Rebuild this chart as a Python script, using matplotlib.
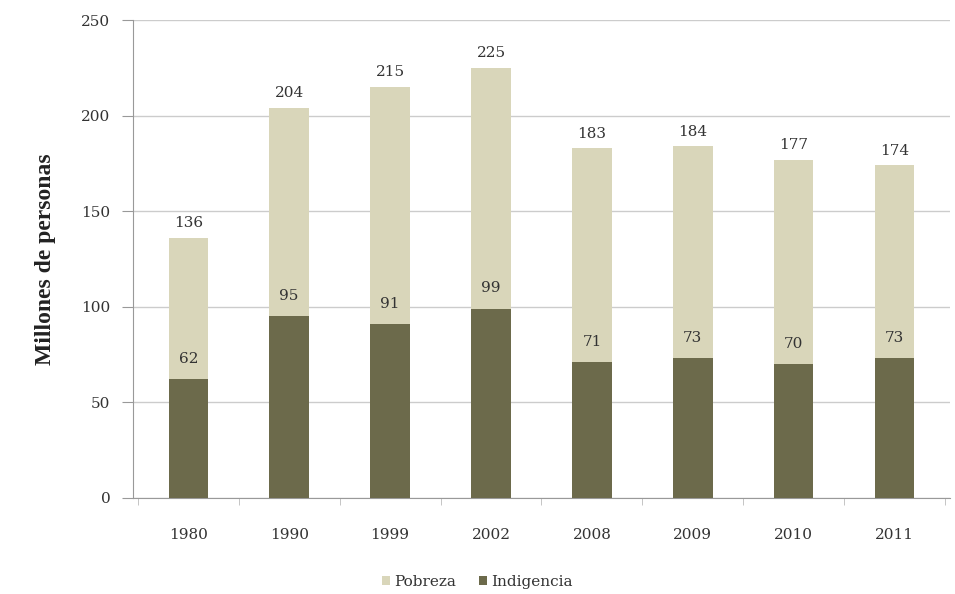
import matplotlib
matplotlib.use("Agg")
import matplotlib.pyplot as plt
import numpy as np

years = ["1980", "1990", "1999", "2002", "2008", "2009", "2010", "2011"]
pobreza = [136, 204, 215, 225, 183, 184, 177, 174]
indigencia = [62, 95, 91, 99, 71, 73, 70, 73]

c_pob = "#d9d6ba"
c_ind = "#6c6a4b"
txt = "#333333"
plt.rcParams['font.family'] = ['DejaVu Serif']

fig = plt.figure(figsize=(9.55, 5.94), dpi=100)
ax = fig.add_axes([0.139, 0.162, 0.856, 0.804])
x = np.arange(len(years))
w = 0.39
ax.bar(x, pobreza, w, color=c_pob, label="Pobreza", zorder=2)
ax.bar(x, indigencia, w, color=c_ind, label="Indigencia", zorder=3)

for xi, p, i in zip(x, pobreza, indigencia):
    ax.text(xi, p + 4, str(p), ha="center", va="bottom", fontsize=11, color=txt)
    ax.text(xi, i + 7, str(i), ha="center", va="bottom", fontsize=11, color=txt)

ax.set_xlim(-0.55, len(years) - 0.45)
ax.set_ylim(0, 250)
ax.set_yticks(range(0, 251, 50))
ax.set_xticks(x)
ax.set_xticklabels(years, fontsize=11, color=txt)
ax.tick_params(axis="y", labelsize=11, colors=txt, length=8, color="#999999", pad=8)
ax.tick_params(axis="x", length=0, pad=22)
ax.set_xticks(np.arange(-0.5, len(years), 1), minor=True)
ax.tick_params(axis="x", which="minor", length=5, color="#bbbbbb")
ax.grid(axis="y", color="#cccccc", linewidth=1, zorder=0)
for s in ["top", "right"]:
    ax.spines[s].set_visible(False)
ax.spines["left"].set_color("#999999")
ax.spines["bottom"].set_color("#999999")
ax.set_ylabel("Millones de personas", fontsize=17, fontweight="bold", color="#222222", labelpad=18,
              family="Liberation Serif", fontstretch="condensed")

fig.legend(loc="lower center", bbox_to_anchor=(0.5, -0.015), ncol=2, frameon=False,
           fontsize=11, handlelength=0.5, handleheight=0.5, handletextpad=0.3, columnspacing=1.5,
           labelcolor=txt)
fig.savefig("out.png", dpi=100)
